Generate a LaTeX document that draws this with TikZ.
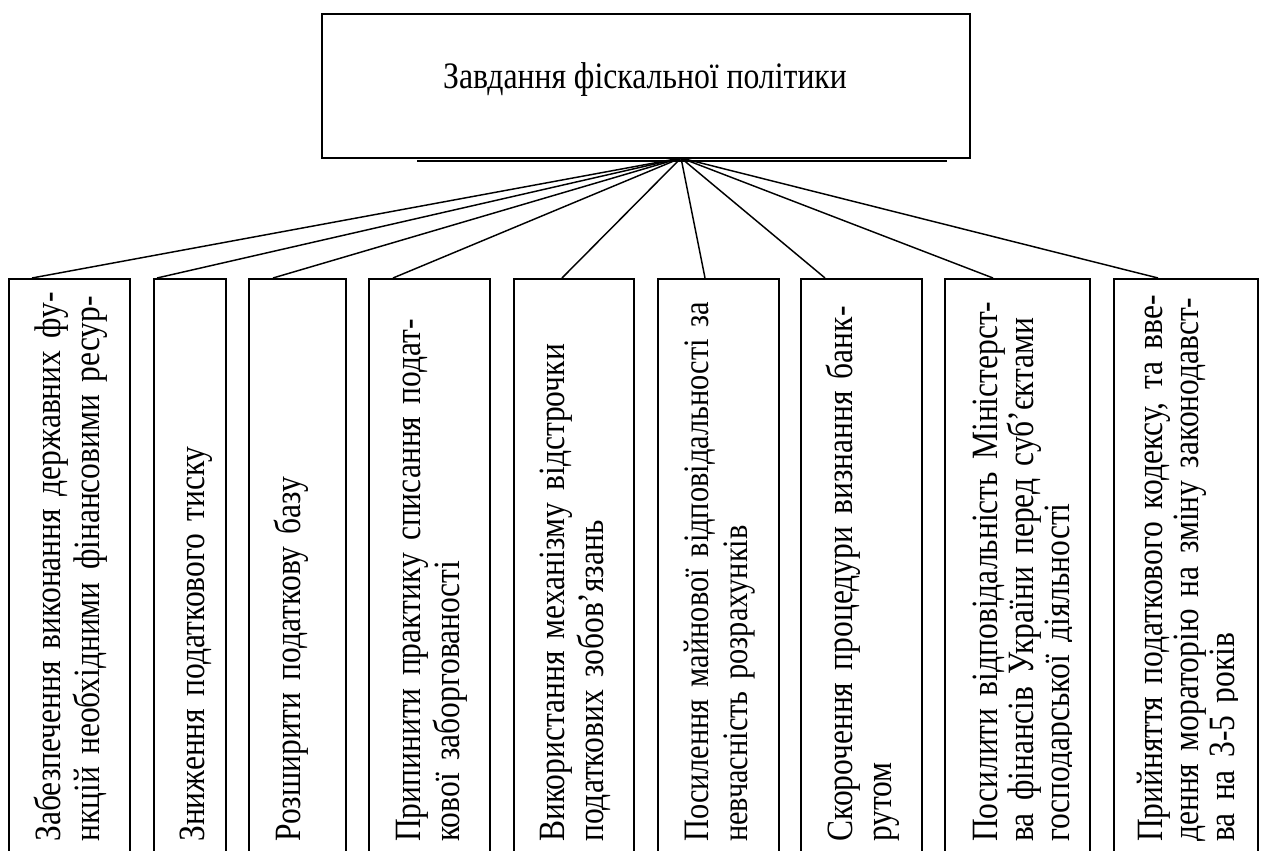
\documentclass[tikz,border=0pt]{standalone}
\usepackage{fontspec}
\setmainfont{Liberation Serif}[FakeStretch=0.85]
\usetikzlibrary{calc}
\newcommand\tightsp[1][0.21em]{\spaceskip=#1\relax}
\begin{document}
\begin{tikzpicture}[x=0.75pt,y=-0.75pt,
    box/.style={draw, line width=1.4pt, inner sep=0pt, anchor=north west, minimum height=575*0.75pt},
    vtext/.style={rotate=90, anchor=base west, inner sep=0pt, text width=450pt, align=left,
      font=\fontsize{27.8}{29.25}\selectfont\tightsp},
    vtextc/.style={vtext, font=\fontsize{27.8}{27}\selectfont\tightsp},
    link/.style={line width=1.1pt}]
  \useasboundingbox (0,0) rectangle (1262,850);
  % main box
  \node[draw, line width=1.4pt, inner sep=0pt, anchor=north west,
    minimum width=648*0.75pt, minimum height=144*0.75pt] (top) at (321,13) {};
  \node[anchor=base, inner sep=0pt, font=\fontsize{28}{30}\selectfont\tightsp] (title) at (645,88) {Завдання фіскальної політики};
  \draw[line width=1.4pt] ($(top.south west)+(96,2)$) -- ($(top.south east)+(-24,2)$);
  % task boxes
  \node[box, minimum width=121*0.75pt] (b1) at (8,278) {};
  \node[box, minimum width=72*0.75pt] (b2) at (153,278) {};
  \node[box, minimum width=97*0.75pt] (b3) at (248,278) {};
  \node[box, minimum width=121*0.75pt] (b4) at (368,278) {};
  \node[box, minimum width=120*0.75pt] (b5) at (513,278) {};
  \node[box, minimum width=121*0.75pt] (b6) at (657,278) {};
  \node[box, minimum width=121*0.75pt] (b7) at (800,278) {};
  \node[box, minimum width=145*0.75pt] (b8) at (944,278) {};
  \node[box, minimum width=144*0.75pt] (b9) at (1113,278) {};
  % texts
  \node[vtext] (t1) at (60,842) {Забезпечення виконання державних фу-\\нкцій необхідними фінансовими ресур-};
  \node[vtext] (t2) at (204,842) {Зниження податкового тиску};
  \node[vtext] (t3) at (300,842) {Розширити податкову базу};
  \node[vtext] (t4) at (420,842) {Припинити практику списання подат-\\кової заборгованості};
  \node[vtext] (t5) at (564,842) {Використання механізму відстрочки\\податкових зобов’язань};
  \node[vtext, font={\fontsize{26.8}{29.25}\selectfont}] (t6) at (708,842) {Посилення майнової відповідальності за\\невчасність розрахунків};
  \node[vtext] (t7) at (852,842) {Скорочення процедури визнання банк-\\рутом};
  \begin{scope}
    \clip (b8.north west) rectangle ($(b8.south west)+(127,0)$);
    \node[vtextc] (t8) at (997,842) {Посилити відповідальність Міністерст-\\ва фінансів України перед суб’єктами\\господарської діяльності};
  \end{scope}
  \begin{scope}
    \clip (b9.north west) rectangle ($(b9.south west)+(124,0)$);
    \node[vtextc] (t9) at (1162,842) {Прийняття податкового кодексу, та вве-\\дення мораторію на зміну законодавст-\\ва на 3-5 років};
  \end{scope}
  % links
  \coordinate (hub) at (681,158);
  \foreach \i/\d in {1/24,2/4,3/25,4/25,5/49,6/48,7/25,8/49,9/45}
    \draw[link] (hub) -- ($(b\i.north west)+(\d,0)$);
\end{tikzpicture}
\end{document}
